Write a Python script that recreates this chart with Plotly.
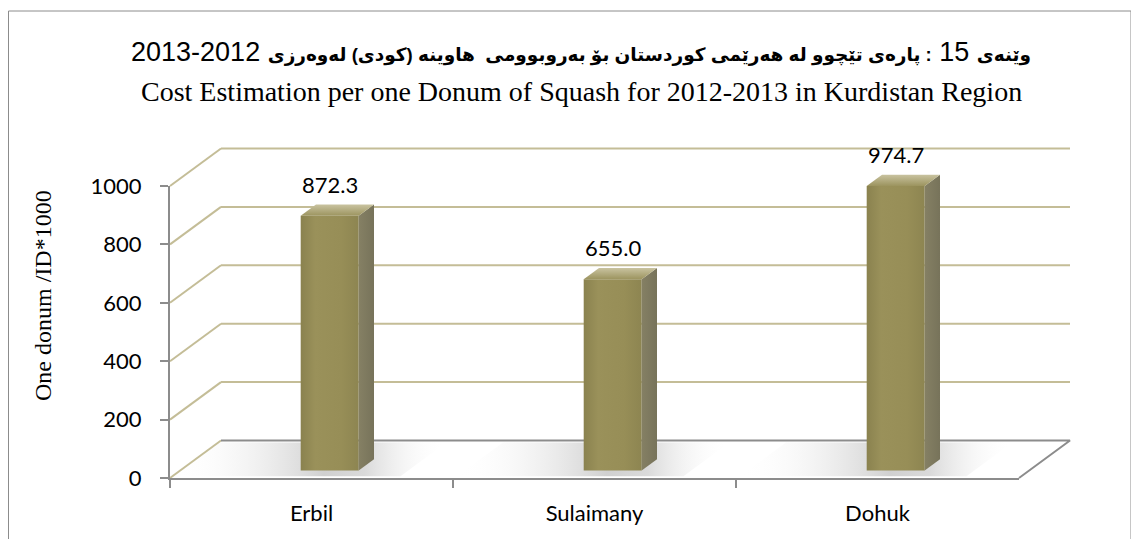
import plotly.graph_objects as go

# ---------------- data ----------------
categories = ["Erbil", "Sulaimany", "Dohuk"]
values = [872.3, 655.0, 974.7]
value_labels = ["872.3", "655.0", "974.7"]
y_ticks = [0, 200, 400, 600, 800, 1000]

title_ku_a = "وێنەی"
title_ku_num = "15"
title_ku_b = ": پارەی تێچوو لە هەرێمی کوردستان بۆ بەروبوومی  هاوینە (کودی) لەوەرزی"
title_ku_years = "2012-2013"
title_en = "Cost Estimation per one Donum of Squash for 2012-2013 in Kurdistan Region"
y_title = "One donum /ID*1000"

# ---------------- geometry (page pixels) ----------------
OFF = 8                      # page body margin
W, H = 1131, 531             # figure size
AX_L, AX_R = 170, 1019       # front category axis
AX_B, AX_T = 478, 186        # front value axis (0 .. 1000)
DEPTH_X, DEPTH_Y = 51, 37.5  # pixel offset from front to back wall
PL, PR, PT, PB = 100, 1110, 115, 505  # drawing area

n = len(categories)
vmax = y_ticks[-1]
ppc = (AX_R - AX_L) / n
ppv = (AX_B - AX_T) / vmax
DX = DEPTH_X / ppc
DY = DEPTH_Y / ppv


def dx(px):
    return (px - AX_L) / ppc - 0.5


def dy(py):
    return (AX_B - py) / ppv


def fx(px):
    return (px - OFF) / W


def fy(py):
    return 1 - (py - OFF) / H


TAN = "#c4bd97"
AXIS = "#8c8c8c"

fig = go.Figure()

XL, XR = -0.5, n - 0.5


def poly(xs, ys, **kw):
    fig.add_trace(go.Scatter(x=xs + [xs[0]], y=ys + [ys[0]], fill="toself", mode="lines",
                             line=dict(width=0), hoverinfo="skip", showlegend=False, **kw))


# floor
poly([XL, XR, XR + DX, XL + DX], [0, 0, DY, DY], fillcolor="white")

# bar geometry
d0, d1 = 0.2, 0.5
xoff = 8 / ppc
hw = 29 / ppc
base = d0 * DY
ddx, ddy = (d1 - d0) * DX, (d1 - d0) * DY
centers = [i + d0 * DX + xoff for i in range(n)]

# floor shadows
for cx in centers:
    sx0, sx1 = cx - 0.55, cx + 0.25
    poly([sx0, sx1, sx1 + DX * 0.9, sx0 + DX * 0.9],
         [0.05 * DY, 0.05 * DY, 0.95 * DY, 0.95 * DY],
         fillgradient=dict(type="horizontal", colorscale=[
             [0, "rgba(255,255,255,0)"], [0.55, "rgba(208,208,208,1)"],
             [0.7, "rgba(218,218,218,1)"], [1, "rgba(255,255,255,0)"]]))

# back wall gridlines and side-wall diagonals
gx, gy = [], []
for v in y_ticks:
    gx += [XL, XL + DX, None]
    gy += [v, v + DY, None]
    if v > 0:
        gx += [XL + DX, XR + DX, None]
        gy += [v + DY, v + DY, None]
fig.add_trace(go.Scatter(x=gx, y=gy, mode="lines", line=dict(color=TAN, width=2),
                         hoverinfo="skip", showlegend=False))

# floor edges
fig.add_trace(go.Scatter(x=[XL + DX, XR + DX, XR], y=[DY, DY, 0], mode="lines",
                         line=dict(color=AXIS, width=2), hoverinfo="skip", showlegend=False))

# 3-D bars: front, side and top faces
for cx, v in zip(centers, values):
    xl, xr = cx - hw, cx + hw
    top = base + v
    poly([xl, xr, xr, xl], [base, base, top, top],
         fillgradient=dict(type="horizontal", colorscale=[
             [0, "#8a824f"], [0.25, "#9a915a"], [0.7, "#978e57"], [1, "#8d8551"]]))
    poly([xr, xr + ddx, xr + ddx, xr], [base, base + ddy, top + ddy, top],
         fillgradient=dict(type="horizontal", colorscale=[[0, "#858064"], [1, "#77735a"]]))
    poly([xl, xr, xr + ddx, xl + ddx], [top, top, top + ddy, top + ddy],
         fillgradient=dict(type="vertical", colorscale=[[0, "#9c945f"], [1, "#c9c3a0"]]))

# data labels
for cx, v, lab in zip(centers, values, value_labels):
    fig.add_annotation(x=cx, y=base + v + ddy, xref="x", yref="y", text=lab,
                       showarrow=False, yshift=20, yanchor="middle",
                       font=dict(family="Lato", size=22, color="black"))

# display axes (front axes) -- invisible trace for categories
fig.add_trace(go.Scatter(x=categories, y=values, xaxis="x2", yaxis="y2", mode="markers",
                         marker=dict(opacity=0), hoverinfo="skip", showlegend=False))

fig.update_layout(
    template="none",
    width=W, height=H, autosize=False,
    margin=dict(l=0, r=0, t=0, b=0, pad=0, autoexpand=False),
    paper_bgcolor="white", plot_bgcolor="rgba(0,0,0,0)",
    showlegend=False,
    xaxis=dict(domain=[fx(PL), fx(PR)], range=[dx(PL), dx(PR)], visible=False,
               fixedrange=True, automargin=False),
    yaxis=dict(domain=[fy(PB), fy(PT)], range=[dy(PB), dy(PT)], visible=False,
               fixedrange=True, automargin=False),
    xaxis2=dict(domain=[fx(AX_L), fx(AX_R)], anchor="y2", type="category",
                categoryorder="array", categoryarray=categories, range=[-0.5, n - 0.5],
                tickson="boundaries", ticks="outside", ticklen=8, tickcolor=AXIS, tickwidth=2,
                showline=True, linecolor=AXIS, linewidth=2, showgrid=False, zeroline=False,
                ticklabelstandoff=15, automargin=False,
                tickfont=dict(family="Lato", size=22, color="black"), fixedrange=True),
    yaxis2=dict(domain=[fy(AX_B), fy(AX_T)], anchor="x2", range=[0, vmax],
                tickvals=y_ticks, ticks="outside", ticklen=8, tickcolor=AXIS, tickwidth=2,
                showline=True, linecolor=AXIS, linewidth=2, showgrid=False, zeroline=False,
                ticklabelstandoff=14, automargin=False,
                tickfont=dict(family="Lato", size=22, color="black"), fixedrange=True),
)

# titles
small = "<span style='font-size:18.5px'>"
line1 = (f"<b>{small}{title_ku_a}</span></b> {title_ku_num} "
         f"<b>{small}{title_ku_b}</span></b> {title_ku_years}")
fig.add_annotation(x=fx(581), y=fy(52), xref="paper", yref="paper", text=line1,
                   showarrow=False, xanchor="center", yanchor="middle",
                   font=dict(family="Liberation Sans, DejaVu Sans", size=27, color="black"))
fig.add_annotation(x=fx(581), y=fy(92), xref="paper", yref="paper", text=title_en,
                   showarrow=False, xanchor="center", yanchor="middle",
                   font=dict(family="Liberation Serif", size=28, color="black"))
fig.add_annotation(x=fx(43), y=fy(296), xref="paper", yref="paper", text=y_title,
                   showarrow=False, textangle=-90, xanchor="center", yanchor="middle",
                   font=dict(family="Liberation Serif", size=24, color="black"))

# outer border
fig.add_shape(type="rect", xref="paper", yref="paper", x0=fx(8.5), x1=fx(1131), y0=fy(11),
              y1=fy(560), line=dict(color="#8c8c8c", width=1), fillcolor="rgba(0,0,0,0)")

fig.write_html("out.html")
